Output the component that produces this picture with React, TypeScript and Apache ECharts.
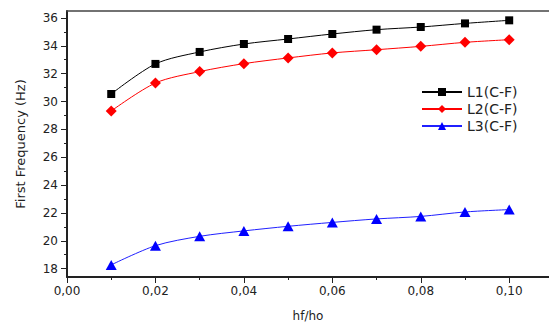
import React, { useEffect, useRef } from "react";
import * as echarts from "echarts";

const xValues = [0.01, 0.02, 0.03, 0.04, 0.05, 0.06, 0.07, 0.08, 0.09, 0.1];
const l1Values = [30.54, 32.7, 33.56, 34.13, 34.49, 34.85, 35.16, 35.35, 35.61, 35.83];
const l2Values = [29.32, 31.33, 32.15, 32.72, 33.13, 33.49, 33.72, 33.96, 34.25, 34.44];
const l3Values = [18.27, 19.65, 20.32, 20.71, 21.04, 21.32, 21.57, 21.75, 22.07, 22.24];

const seriesNames = ["L1(C-F)", "L2(C-F)", "L3(C-F)"];

const xMajorTicks = [0, 0.02, 0.04, 0.06, 0.08, 0.1];
const xMajorLabels = ["0,00", "0,02", "0,04", "0,06", "0,08", "0,10"];
const xMinorTicks = [0.01, 0.03, 0.05, 0.07, 0.09];
const yMajorTicks = [18, 20, 22, 24, 26, 28, 30, 32, 34, 36];
const yMinorTicks = [19, 21, 23, 25, 27, 29, 31, 33, 35];

const FONT = "DejaVu Sans";

export default function App() {
  const ref = useRef<HTMLDivElement>(null);
  useEffect(() => {
    if (!ref.current) return;
    const chart = echarts.init(ref.current, null, { renderer: "svg" });
    const axisColor = "#222";
    const mk = (vals: number[]) => xValues.map((x, i) => [x, vals[i]]);
    const X_MAX = 0.109;
    chart.setOption({
      animation: false,
      backgroundColor: "#fff",
      grid: {
        left: 67,
        top: 11,
        right: 0,
        bottom: 45,
        show: false,
        containLabel: false,
        outerBoundsMode: "none",
      },
      legend: {
        orient: "vertical",
        left: 418,
        top: 82,
        itemWidth: 40,
        itemHeight: 10,
        itemGap: 3,
        padding: [3, 6, 3, 3],
        backgroundColor: "#fff",
        data: seriesNames,
        textStyle: { fontFamily: FONT, fontSize: 14, color: "#222" },
      },
      xAxis: [
        {
          type: "value",
          min: 0,
          max: X_MAX,
          position: "bottom",
          name: "hf/ho",
          nameLocation: "middle",
          nameGap: 33,
          nameTextStyle: { fontFamily: FONT, fontSize: 12, color: "#222" },
          axisLine: { show: true, onZero: false, lineStyle: { color: axisColor, width: 2 } },
          axisTick: {
            show: true,
            inside: false,
            length: 6,
            customValues: xMajorTicks,
            lineStyle: { color: axisColor, width: 1 },
          },
          axisLabel: {
            customValues: xMajorTicks,
            formatter: (v: number) => {
              const i = xMajorTicks.findIndex((t) => Math.abs(t - v) < 1e-9);
              return i >= 0 ? xMajorLabels[i] : "";
            },
            fontFamily: FONT,
            fontSize: 12,
            color: "#222",
            margin: 8,
          },
          splitLine: { show: false },
        },
        {
          type: "value",
          min: 0,
          max: X_MAX,
          position: "bottom",
          axisLine: { show: false },
          axisTick: {
            show: true,
            inside: false,
            length: 3,
            customValues: xMinorTicks,
            lineStyle: { color: axisColor, width: 1 },
          },
          axisLabel: { show: false },
          splitLine: { show: false },
        },
        {
          type: "value",
          min: 0,
          max: X_MAX,
          position: "top",
          axisLine: { show: true, onZero: false, lineStyle: { color: "#444", width: 1.5 } },
          axisTick: { show: false },
          axisLabel: { show: false },
          splitLine: { show: false },
        },
      ],
      yAxis: [
        {
          type: "value",
          min: 17.4,
          max: 36.5,
          position: "left",
          name: "First Frequency (Hz)",
          nameLocation: "middle",
          nameGap: 40,
          nameTextStyle: { fontFamily: FONT, fontSize: 13, color: "#222" },
          axisLine: { show: true, onZero: false, lineStyle: { color: axisColor, width: 2 } },
          axisTick: {
            show: true,
            inside: false,
            length: 6,
            customValues: yMajorTicks,
            lineStyle: { color: axisColor, width: 1 },
          },
          axisLabel: {
            customValues: yMajorTicks,
            fontFamily: FONT,
            fontSize: 12,
            color: "#222",
            margin: 9,
          },
          splitLine: { show: false },
        },
        {
          type: "value",
          min: 17.4,
          max: 36.5,
          position: "left",
          axisLine: { show: false },
          axisTick: {
            show: true,
            inside: false,
            length: 3,
            customValues: yMinorTicks,
            lineStyle: { color: axisColor, width: 1 },
          },
          axisLabel: { show: false },
          splitLine: { show: false },
        },
      ],
      series: [
        {
          name: seriesNames[0],
          type: "line",
          smooth: 0.3,
          data: mk(l1Values),
          symbol: "rect",
          symbolSize: 8,
          lineStyle: { color: "#000", width: 1 },
          itemStyle: { color: "#000" },
        },
        {
          name: seriesNames[1],
          type: "line",
          smooth: 0.3,
          data: mk(l2Values),
          symbol: "diamond",
          symbolSize: 11,
          lineStyle: { color: "#ff0000", width: 1 },
          itemStyle: { color: "#ff0000" },
        },
        {
          name: seriesNames[2],
          type: "line",
          smooth: 0.3,
          data: mk(l3Values),
          symbol: "triangle",
          symbolSize: [11, 10],
          lineStyle: { color: "#2020ff", width: 1 },
          itemStyle: { color: "#0000ff" },
        },
      ],
    });
    return () => chart.dispose();
  }, []);
  return (
    <div
      ref={ref}
      style={{ position: "fixed", left: 0, top: 0, width: 549, height: 322 }}
    />
  );
}
